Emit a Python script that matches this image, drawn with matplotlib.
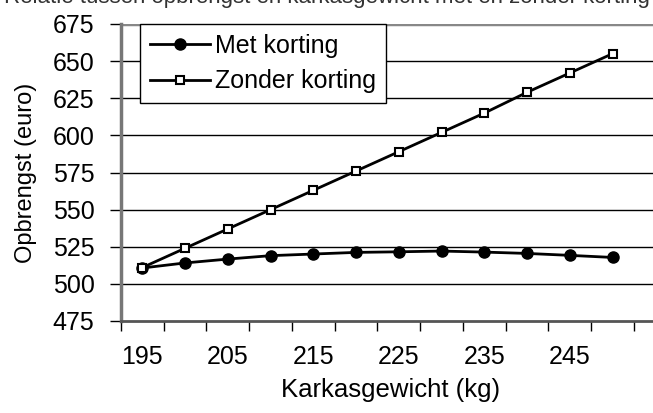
import matplotlib
matplotlib.use("Agg")
import matplotlib.pyplot as plt

weights = [195, 200, 205, 210, 215, 220, 225, 230, 235, 240, 245, 250]
met_korting = [510.7, 514.1, 516.7, 519.0, 520.1, 521.2, 521.6, 522.1, 521.4, 520.5, 519.2, 517.8]
zonder_korting = [511, 524, 537, 550, 563, 576, 589, 602, 615, 629, 642, 655]
x_labels = ["195", "205", "215", "225", "235", "245"]
y_ticks = [475, 500, 525, 550, 575, 600, 625, 650, 675]

plt.rcParams['font.family'] = ["Liberation Sans", "DejaVu Sans"]
FS = 18

fig = plt.figure(figsize=(6.53, 4.13), dpi=100)
ax = fig.add_axes([121/653, 1-321/413, (653-121)/653 + 0.01, (321-24)/413])

xs = list(range(len(weights)))
ax.plot(xs, met_korting, color='black', lw=2, marker='o', ms=8,
        mfc='black', mec='black', label='Met korting', clip_on=False, zorder=4)
ax.plot(xs, zonder_korting, color='black', lw=2, marker='s', ms=6,
        mfc='white', mec='black', mew=1.5, label='Zonder korting', clip_on=False, zorder=5)

ax.set_ylim(475, 675)
ax.set_yticks(y_ticks)
ax.set_yticklabels([str(v) for v in y_ticks], fontsize=FS)
ax.set_xlim(-0.5, 12.1)
ax.set_xticks([i - 0.5 for i in range(13)])
ax.set_xticklabels([])
ax.set_xticks(xs[::2], minor=True)
ax.set_xticklabels(x_labels, minor=True, fontsize=FS)
ax.tick_params(axis='x', which='minor', length=0, pad=17)
ax.tick_params(axis='x', which='major', length=7, width=1, direction='out')
ax.tick_params(axis='y', length=8, width=1, direction='out', pad=11)

for v in y_ticks[1:]:
    ax.axhline(v, color='black', lw=1, zorder=1)
ax.axhline(675, color='#888888', lw=2.5, zorder=1)

for s in ['top', 'right']:
    ax.spines[s].set_visible(False)
ax.spines['left'].set_color('#777777')
ax.spines['left'].set_linewidth(2.5)
ax.spines['bottom'].set_color('#555555')
ax.spines['bottom'].set_linewidth(2)

ax.set_ylabel('Opbrengst (euro)', fontsize=17, labelpad=11)
ax.set_xlabel('Karkasgewicht (kg)', fontsize=18.5, labelpad=7)

leg = ax.legend(loc='upper left', bbox_to_anchor=(19/532, 1.0), fontsize=FS,
                frameon=True, fancybox=False, edgecolor='black', framealpha=1,
                borderpad=0.4, handlelength=2.4, handletextpad=0.2, labelspacing=0.45,
                borderaxespad=0)
leg.get_frame().set_linewidth(1)

fig.text(0.5, 1 - 3/413, 'Relatie tussen opbrengst en karkasgewicht met en zonder korting',
         ha='center', va='baseline', fontsize=16, color='#333333')

fig.savefig('out.png', dpi=100)
